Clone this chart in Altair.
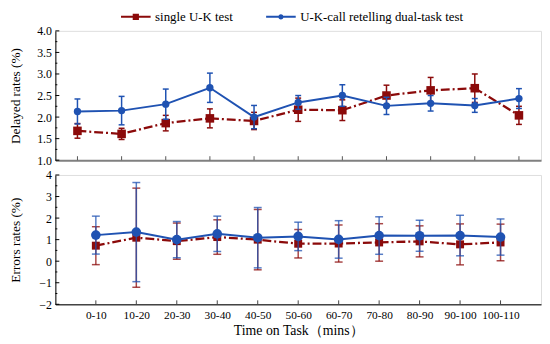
import altair as alt
import pandas as pd

periods = ["0-10", "10-20", "20-30", "30-40", "40-50", "50-60",
           "60-70", "70-80", "80-90", "90-100", "100-110"]
series_names = ["single U-K test", "U-K-call retelling dual-task test"]
series_colors = ["#8B0A0A", "#1F52B2"]

# Delayed rates (%) : mean and error
delay_single = [1.68, 1.61, 1.86, 1.97, 1.91, 2.17, 2.16, 2.50, 2.62, 2.67, 2.04]
delay_single_err = [0.17, 0.13, 0.18, 0.22, 0.20, 0.27, 0.24, 0.24, 0.30, 0.33, 0.21]
delay_dual = [2.13, 2.15, 2.30, 2.68, 2.00, 2.34, 2.50, 2.26, 2.32, 2.27, 2.43]
delay_dual_err = [0.29, 0.33, 0.35, 0.34, 0.27, 0.16, 0.25, 0.20, 0.18, 0.16, 0.23]

# Errors rates (%) : mean and error
error_single = [0.72, 1.09, 0.93, 1.12, 1.00, 0.81, 0.82, 0.87, 0.92, 0.78, 0.87]
error_single_err = [0.88, 2.30, 0.84, 0.80, 1.40, 0.66, 0.86, 0.87, 0.72, 0.95, 0.85]
error_dual = [1.21, 1.35, 1.00, 1.27, 1.09, 1.15, 1.01, 1.19, 1.18, 1.19, 1.12]
error_dual_err = [0.88, 2.30, 0.84, 0.82, 1.40, 0.66, 0.87, 0.87, 0.72, 0.94, 0.84]

top_major = [1.0, 1.5, 2.0, 2.5, 3.0, 3.5, 4.0]
top_minor = [1.25, 1.75, 2.25, 2.75, 3.25, 3.75]
bottom_major = [-2, -1, 0, 1, 2, 3, 4]
bottom_minor = [-1.5, -0.5, 0.5, 1.5, 2.5, 3.5]

legend_paths = [
    "M-5,-0.35H5V0.35H-5Z M-1.05,-1.05H1.05V1.05H-1.05Z",
    "M-5,-0.35H5V0.35H-5Z M0.9,0A0.9,0.9,0,1,1,-0.9,0A0.9,0.9,0,1,1,0.9,0Z",
]

FONT = "Liberation Serif"
W = 492
H = 131


def make_df(vals, errs, name):
    return pd.DataFrame({
        "period": periods,
        "series": name,
        "value": vals,
        "lo": [v - e for v, e in zip(vals, errs)],
        "hi": [v + e for v, e in zip(vals, errs)],
    })


def y_axis(title, ticks, fmt, title_x):
    return alt.Axis(
        title=title, values=ticks, format=fmt, ticks=False, labelOverlap=False,
        labelPadding=4, domainColor="black", labelFont=FONT, titleFont=FONT,
        labelFontSize=12, labelColor="black", titleFontSize=13.5, titleFontWeight="normal",
        titleColor="black", titleX=title_x, grid=False,
    )


def series_layers(df, xenc, Y, color, dash, shape, size, sw, err_op, cap):
    base = alt.Chart(df)
    rule = base.mark_rule(color=color, strokeWidth=1.5, opacity=err_op).encode(
        x=xenc, y=Y("lo"), y2="hi:Q")
    cap_lo = base.mark_tick(color=color, size=cap, thickness=1.5, opacity=err_op).encode(
        x=xenc, y=Y("lo"))
    cap_hi = base.mark_tick(color=color, size=cap, thickness=1.5, opacity=err_op).encode(
        x=xenc, y=Y("hi"))
    line_kw = dict(color=color, strokeWidth=sw)
    if dash:
        line_kw["strokeDash"] = dash
    line = base.mark_line(**line_kw).encode(x=xenc, y=Y("value"))
    pts = base.mark_point(shape=shape, filled=True, size=size, color=color, opacity=1).encode(
        x=xenc, y=Y("value"))
    return [rule, cap_lo, cap_hi, line, pts]


def tick_layers(major, minor, Y, xenc, xtick_color):
    ym = alt.Chart(pd.DataFrame({"t": major})).mark_rule(color="black", strokeWidth=1).encode(
        y=Y("t"), x=alt.value(0), x2=alt.value(4))
    yn = alt.Chart(pd.DataFrame({"t": minor})).mark_rule(color="black", strokeWidth=1).encode(
        y=Y("t"), x=alt.value(0), x2=alt.value(2))
    xt = alt.Chart(pd.DataFrame({"period": periods})).mark_rule(color=xtick_color, strokeWidth=1).encode(
        x=xenc, y=alt.value(H), y2=alt.value(H - 4))
    return [ym, yn, xt]


# ---------- top panel ----------
x_top = alt.X("period:N", sort=periods, scale=alt.Scale(type="point", padding=0.5),
              axis=alt.Axis(title=None, labels=False, ticks=False, domainColor="#808080",
                            domainWidth=2, grid=False))
ys_top = alt.Scale(domain=[1.0, 4.0], nice=False, zero=False)
ax_top = y_axis("Delayed rates (%)", top_major, ".1f", -33)


def Y_top(field):
    return alt.Y(f"{field}:Q", scale=ys_top, axis=ax_top)


top_layers = []
top_layers += series_layers(make_df(delay_single, delay_single_err, series_names[0]), x_top, Y_top,
                            series_colors[0], [9, 3, 2, 3], "square", 75, 2.3, 1.0, 6)
top_layers += series_layers(make_df(delay_dual, delay_dual_err, series_names[1]), x_top, Y_top,
                            series_colors[1], None, "circle", 55, 2.0, 1.0, 6)
top_layers += tick_layers(top_major, top_minor, Y_top, x_top, "#555555")

legend_kw = dict(title=None, orient="none", legendX=75, legendY=-21, direction="horizontal",
                 symbolSize=36, labelOffset=13, columnPadding=33, labelFontSize=13,
                 labelFont=FONT, labelColor="black", labelLimit=400, symbolStrokeWidth=0,
                 symbolOpacity=1)
legend_layer = alt.Chart(pd.DataFrame({"series": series_names})).mark_point(
    filled=True, opacity=0).encode(
    x=alt.value(0), y=alt.value(0),
    color=alt.Color("series:N", scale=alt.Scale(domain=series_names, range=series_colors),
                    legend=alt.Legend(**legend_kw)),
    shape=alt.Shape("series:N", scale=alt.Scale(domain=series_names, range=legend_paths),
                    legend=alt.Legend(**legend_kw)),
)

top = alt.layer(*top_layers, legend_layer).properties(width=W, height=H)

# ---------- bottom panel ----------
x_bot = alt.X("period:N", sort=periods, scale=alt.Scale(type="point", padding=1),
              axis=alt.Axis(title="Time on Task（mins）", labelAngle=0, labelFontSize=11.5,
                            labelFont=FONT, titleFont=FONT,
                            labelColor="black", labelPadding=5, ticks=False, domainColor="#444444",
                            domainWidth=1.5, titleFontSize=14,
                            titleFontWeight="normal", titleColor="black", titlePadding=3, grid=False))
ys_bot = alt.Scale(domain=[-2, 4], nice=False, zero=False)
ax_bot = y_axis("Errors rates (%)", bottom_major, "d", -33)


def Y_bot(field):
    return alt.Y(f"{field}:Q", scale=ys_bot, axis=ax_bot)


bot_layers = []
bot_layers += series_layers(make_df(error_single, error_single_err, series_names[0]), x_bot, Y_bot,
                            series_colors[0], [9, 3, 2, 3], "square", 65, 2.3, 0.75, 8)
bot_layers += series_layers(make_df(error_dual, error_dual_err, series_names[1]), x_bot, Y_bot,
                            series_colors[1], None, "circle", 95, 2.0, 0.75, 8)
bot_layers += tick_layers(bottom_major, bottom_minor, Y_bot, x_bot, "#444444")

bottom = alt.layer(*bot_layers).properties(width=W, height=H)

chart = alt.vconcat(top, bottom, spacing=15, bounds="flush").properties(
    padding={"left": 0, "top": 0, "right": 0, "bottom": 0}
).configure_view(stroke=None).configure(font=FONT).configure_axis(
    labelFont=FONT, titleFont=FONT).configure_legend(labelFont=FONT)

chart.save("out.html", embed_options={"renderer": "svg", "actions": False})
